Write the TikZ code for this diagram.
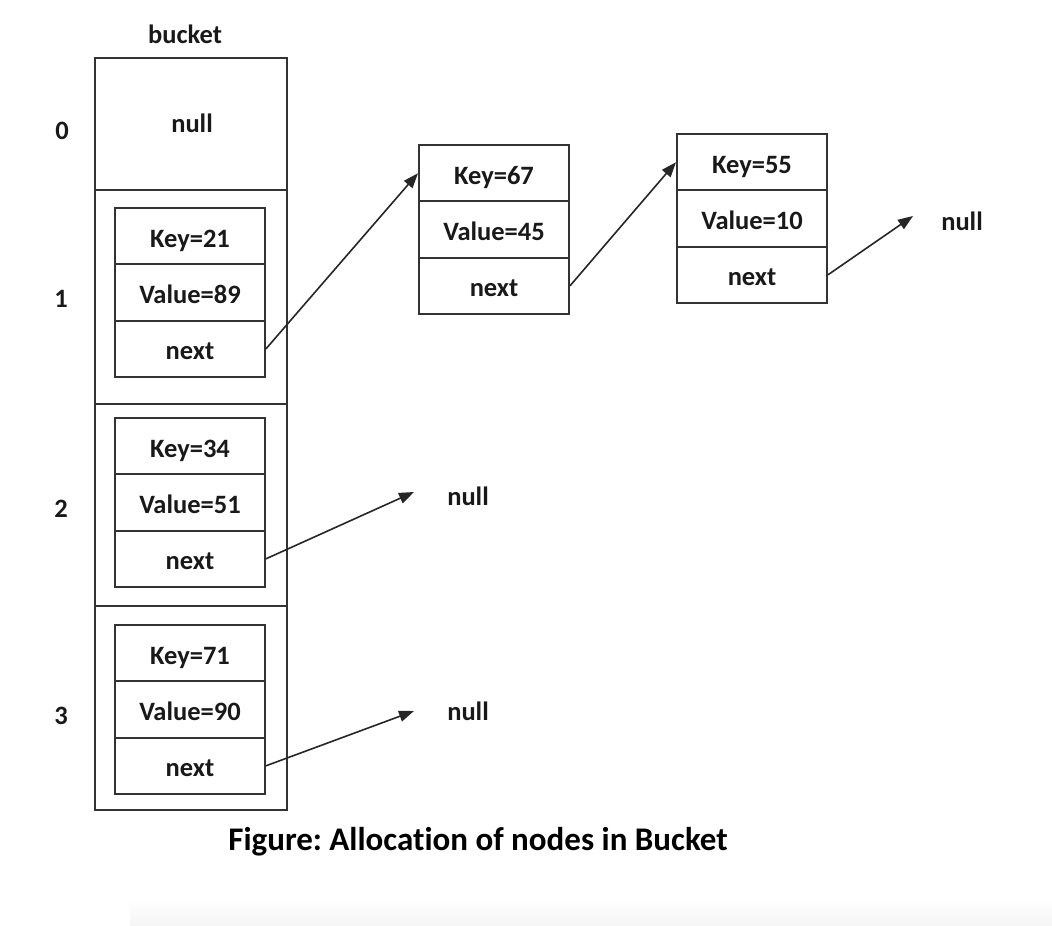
\documentclass[tikz,border=0pt]{standalone}
\usepackage{fontspec}
\setmainfont{Carlito}[Ligatures=NoCommon]
\frenchspacing
\usetikzlibrary{arrows.meta}
\begin{document}
\begin{tikzpicture}[x=1pt,y=-1pt,
  txt/.style={font=\fontsize{26.5}{30}\selectfont\bfseries, text=black!90, inner sep=0pt},
  cell/.style={txt, draw=black!80, line width=2pt, minimum width=150pt, minimum height=56.33pt, text height=22pt, text depth=0pt},
  bcell/.style={draw=black!80, line width=2pt, minimum width=192pt, inner sep=0pt},
  link/.style={draw=black!85, line width=1.6pt, -{Triangle[length=15pt,width=11pt]}}
]
\useasboundingbox (0,0) rectangle (1052,926);
\shade[top color=white, bottom color=black!4] (130,898) rectangle (1052,926);

% bucket column
\node[txt] (lbl) at (185,34) {bucket};
\node[bcell, minimum height=132pt] (b0) at (191,124) {};
\node[bcell, minimum height=214pt] (b1) at (191,297) {};
\node[bcell, minimum height=202pt] (b2) at (191,505) {};
\node[bcell, minimum height=204pt] (b3) at (191,708) {};
\node[txt] (null0) at (192,123) {null};

% indices
\node[txt] (i0) at (62,131) {0};
\node[txt] (i1) at (61,299) {1};
\node[txt] (i2) at (61,509) {2};
\node[txt] (i3) at (61,716) {3};

% record in bucket 1
\node[cell] (k1) at (190,236.2) {Key=21};
\node[cell] (v1) at (190,292.5) {Value=89};
\node[cell] (n1) at (190,348.8) {next};
% record in bucket 2
\node[cell] (k2) at (190,446.2) {Key=34};
\node[cell] (v2) at (190,502.5) {Value=51};
\node[cell] (n2) at (190,558.8) {next};
% record in bucket 3
\node[cell] (k3) at (190,653.2) {Key=71};
\node[cell] (v3) at (190,709.5) {Value=90};
\node[cell] (n3) at (190,765.8) {next};
% chain node B
\node[cell] (kB) at (494,173.2) {Key=67};
\node[cell] (vB) at (494,229.5) {Value=45};
\node[cell] (nB) at (494,285.8) {next};
% chain node C
\node[cell] (kC) at (752,162.2) {Key=55};
\node[cell] (vC) at (752,218.5) {Value=10};
\node[cell] (nC) at (752,274.8) {next};

% null targets
\node[txt] (nullC) at (962,221) {null};
\node[txt] (null2) at (468,496) {null};
\node[txt] (null3) at (468,711) {null};
\coordinate (tC) at (913,216);
\coordinate (t2) at (414,492);
\coordinate (t3) at (414,711);

% links
\draw[link] (n1.east) -- (kB.west);
\draw[link] (nB.east) -- (kC.west);
\draw[link] (nC.east) -- (tC);
\draw[link] (n2.east) -- (t2);
\draw[link] (n3.east) -- (t3);

% caption
\node[txt, font=\fontsize{33}{38}\selectfont\bfseries, text=black] (cap) at (478,842) {Figure: Allocation of nodes in Bucket};
\end{tikzpicture}
\end{document}
